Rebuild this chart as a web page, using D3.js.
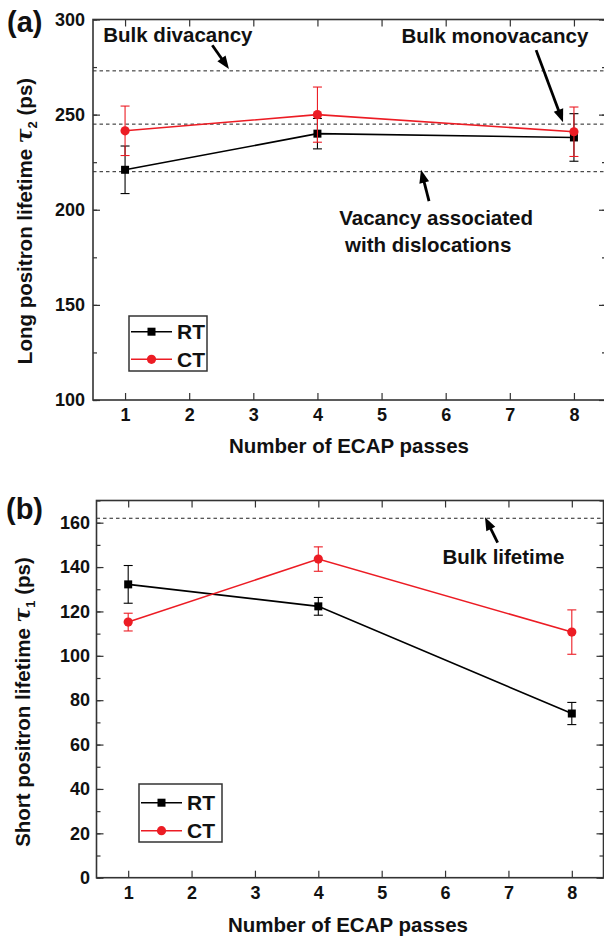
<!DOCTYPE html>
<html>
<head>
<meta charset="utf-8">
<script src="https://cdn.jsdelivr.net/npm/d3@7"></script>
<style>
  body { margin: 0; background: #fff; }
  svg { display: block; font-family: "Liberation Sans", Arial, sans-serif; font-weight: bold; }
</style>
</head>
<body>
<svg id="chart" width="604" height="938"></svg>
<script>
// ---- data ----
const passes = [1, 4, 8];
const xTicks = [1, 2, 3, 4, 5, 6, 7, 8];

const longRT = [221, 240, 238];
const longRTErr = [12.5, 8, 12.5];
const longCT = [241.5, 250, 241];
const longCTErr = [13, 14.5, 13];
const longRefs = [273, 245, 220];

const shortRT = [132.2, 122.3, 74];
const shortRTErr = [8.5, 4, 5];
const shortCT = [115.2, 143.6, 110.7];
const shortCTErr = [4, 5.5, 10];
const shortRefs = [162];

const seriesNames = ["RT", "CT"];
const red = "#ec1c24";

const svg = d3.select("#chart");

function arrow(g, x1, y1, x2, y2) {
  // shaft + filled head, tip at (x2, y2)
  const len = Math.hypot(x2 - x1, y2 - y1);
  const ux = (x2 - x1) / len, uy = (y2 - y1) / len;
  const hl = 13, hw = 5;
  const bx = x2 - ux * hl, by = y2 - uy * hl;
  g.append("line")
    .attr("x1", x1).attr("y1", y1).attr("x2", bx + ux * 2).attr("y2", by + uy * 2)
    .attr("stroke", "#000").attr("stroke-width", 2.8);
  g.append("path")
    .attr("d", `M${x2},${y2}L${bx - uy * hw},${by + ux * hw}L${bx + uy * hw},${by - ux * hw}Z`)
    .attr("fill", "#000");
}

function drawPanel(cfg) {
  const x = d3.scaleLinear().domain([0.5, 8.5]).range([cfg.left, cfg.right]);
  const y = d3.scaleLinear().domain(cfg.yDomain).range([cfg.bottom, cfg.top]);
  const g = svg.append("g");
  const fs = 18;

  // reference dashed lines
  g.selectAll("line.ref")
    .data(cfg.refs)
    .join("line")
    .attr("class", "ref")
    .attr("x1", cfg.left).attr("x2", cfg.right)
    .attr("y1", (d) => y(d)).attr("y2", (d) => y(d))
    .attr("stroke", "#222").attr("stroke-width", 1)
    .attr("stroke-dasharray", "3.5,3");

  // axes: major + minor ticks, pointing inward on all sides
  const minor = d3.range(cfg.yDomain[0], cfg.yDomain[1] + 0.01, cfg.yMinor);
  const axes = [
    [d3.axisBottom(x).tickValues(xTicks).tickSize(-7).tickPadding(cfg.xPad), `translate(0,${cfg.bottom})`, true],
    [d3.axisTop(x).tickValues(xTicks).tickSize(-7).tickFormat(""), `translate(0,${cfg.top})`, false],
    [d3.axisLeft(y).tickValues(cfg.yTicks).tickSize(-7).tickPadding(cfg.yPad), `translate(${cfg.left},0)`, true],
    [d3.axisLeft(y).tickValues(minor).tickSize(-4).tickFormat(""), `translate(${cfg.left},0)`, false],
    [d3.axisRight(y).tickValues(cfg.yTicks).tickSize(-7).tickFormat(""), `translate(${cfg.right},0)`, false],
    [d3.axisRight(y).tickValues(minor).tickSize(-4).tickFormat(""), `translate(${cfg.right},0)`, false],
  ];
  axes.forEach(([ax, tr, labels]) => {
    const a = g.append("g").attr("transform", tr).call(ax.tickSizeOuter(0));
    a.select(".domain").remove();
    a.selectAll("line").attr("stroke", "#333").attr("stroke-width", 1.2);
    if (labels) {
      a.selectAll("text")
        .attr("fill", "#111")
        .style("font-size", fs + "px")
        .style("font-family", '"Liberation Sans", Arial, sans-serif')
        .style("font-weight", "bold");
    }
  });

  g.append("rect")
    .attr("x", cfg.left).attr("y", cfg.top)
    .attr("width", cfg.right - cfg.left).attr("height", cfg.bottom - cfg.top)
    .attr("fill", "none").attr("stroke", "#333").attr("stroke-width", 1.6);

  // series
  cfg.series.forEach((s) => {
    const pts = passes.map((p, i) => ({ p, v: s.values[i], e: s.errs[i] }));
    const sg = g.append("g");
    sg.append("path")
      .datum(pts)
      .attr("fill", "none")
      .attr("stroke", s.color)
      .attr("stroke-width", 1.6)
      .attr("d", d3.line().x((d) => x(d.p)).y((d) => y(d.v)));

    const eb = sg.selectAll("g.err").data(pts).join("g").attr("stroke", s.color).attr("stroke-width", 1.1);
    eb.append("line")
      .attr("x1", (d) => x(d.p)).attr("x2", (d) => x(d.p))
      .attr("y1", (d) => y(d.v - d.e)).attr("y2", (d) => y(d.v + d.e));
    [-1, 1].forEach((sign) => {
      eb.append("line")
        .attr("x1", (d) => x(d.p) - 4.5).attr("x2", (d) => x(d.p) + 4.5)
        .attr("y1", (d) => y(d.v + sign * d.e)).attr("y2", (d) => y(d.v + sign * d.e));
    });

    if (s.shape === "square") {
      sg.selectAll("rect").data(pts).join("rect")
        .attr("x", (d) => x(d.p) - 4).attr("y", (d) => y(d.v) - 4)
        .attr("width", 8).attr("height", 8).attr("fill", s.color);
    } else {
      sg.selectAll("circle").data(pts).join("circle")
        .attr("cx", (d) => x(d.p)).attr("cy", (d) => y(d.v))
        .attr("r", 4.6).attr("fill", s.color);
    }
  });

  // legend
  const L = cfg.legend;
  const lg = g.append("g");
  lg.append("rect")
    .attr("x", L.x).attr("y", L.y).attr("width", L.w).attr("height", L.h)
    .attr("fill", "#fff").attr("stroke", "#333").attr("stroke-width", 1.5);
  cfg.series.forEach((s, i) => {
    const ry = L.rows[i];
    lg.append("line")
      .attr("x1", L.x + 2).attr("x2", L.x + 2 + L.line)
      .attr("y1", ry).attr("y2", ry)
      .attr("stroke", s.color).attr("stroke-width", 1.5);
    const mx = L.x + 2 + L.line / 2;
    if (s.shape === "square") {
      lg.append("rect").attr("x", mx - 4).attr("y", ry - 4).attr("width", 8).attr("height", 8).attr("fill", s.color);
    } else {
      lg.append("circle").attr("cx", mx).attr("cy", ry).attr("r", 4.6).attr("fill", s.color);
    }
    lg.append("text")
      .attr("x", L.x + L.line + 7).attr("y", ry + 7.4)
      .attr("font-size", 21).attr("fill", "#111")
      .text(seriesNames[i]);
  });

  // axis titles
  g.append("text")
    .attr("x", cfg.xTitle[0]).attr("y", cfg.xTitle[1])
    .attr("text-anchor", "middle").attr("font-size", 20.5).attr("fill", "#111")
    .text("Number of ECAP passes");

  const yt = g.append("text")
    .attr("transform", `translate(${cfg.yTitle[0]},${cfg.yTitle[1]}) rotate(-90)`)
    .attr("text-anchor", "middle").attr("font-size", 20.5).attr("fill", "#111");
  yt.append("tspan").text(cfg.yTitleText);
  yt.append("tspan").attr("font-style", "italic").attr("font-size", 22)
    .attr("font-family", '"DejaVu Serif", serif').text("\u03c4");
  yt.append("tspan").attr("font-size", 13).attr("dy", 5).text(cfg.yTitleSub);
  yt.append("tspan").attr("dy", -5).text(" (ps)");

  // panel label
  g.append("text")
    .attr("x", cfg.label[0]).attr("y", cfg.label[1])
    .attr("font-size", 29).attr("fill", "#111").text(cfg.labelText);

  // annotations
  const ag = g.append("g");
  cfg.notes.forEach((n) => {
    n.lines.forEach((t, i) => {
      ag.append("text")
        .attr("x", x(n.at[i][0])).attr("y", y(n.at[i][1]))
        .attr("font-size", 20.5).attr("fill", "#111").text(t);
    });
  });
  cfg.arrows.forEach((a) => arrow(ag, x(a[0]), y(a[1]), x(a[2]), y(a[3])));
}

drawPanel({
  left: 93, right: 606, top: 19.5, bottom: 400,
  yDomain: [100, 300], yTicks: [100, 150, 200, 250, 300], yMinor: 25,
  xPad: 8, yPad: 8,
  refs: longRefs,
  series: [
    { values: longRT, errs: longRTErr, color: "#000", shape: "square" },
    { values: longCT, errs: longCTErr, color: red, shape: "circle" },
  ],
  legend: { x: 129, y: 316, w: 78, h: 55, line: 41, rows: [331.7, 359.3] },
  xTitle: [349, 453],
  yTitle: [32, 221], yTitleText: "Long positron lifetime ", yTitleSub: "2",
  label: [7, 32], labelText: "(a)",
  notes: [
    { lines: ["Bulk divacancy"], at: [[0.66, 288.2]] },
    { lines: ["Bulk monovacancy"], at: [[5.31, 287.4]] },
    { lines: ["Vacancy associated", "with dislocations"], at: [[4.34, 191.9], [4.43, 177.8]] },
  ],
  arrows: [
    [2.36, 286.5, 2.62, 274],
    [7.41, 283.9, 7.83, 246],
    [5.74, 204.5, 5.615, 221],
  ],
});

drawPanel({
  left: 96.5, right: 603.5, top: 500.5, bottom: 877.7,
  yDomain: [0, 170], yTicks: [0, 20, 40, 60, 80, 100, 120, 140, 160], yMinor: 10,
  xPad: 9, yPad: 6.5,
  refs: shortRefs,
  series: [
    { values: shortRT, errs: shortRTErr, color: "#000", shape: "square" },
    { values: shortCT, errs: shortCTErr, color: red, shape: "circle" },
  ],
  legend: { x: 139, y: 784, w: 83, h: 58, line: 41, rows: [802.7, 830.7] },
  xTitle: [348, 932],
  yTitle: [30, 702], yTitleText: "Short positron lifetime  ", yTitleSub: "1",
  label: [6, 519], labelText: "(b)",
  notes: [
    { lines: ["Bulk lifetime"], at: [[5.96, 141.4]] },
  ],
  arrows: [
    [6.83, 151, 6.63, 162.4],
  ],
});
</script>
</body>
</html>
